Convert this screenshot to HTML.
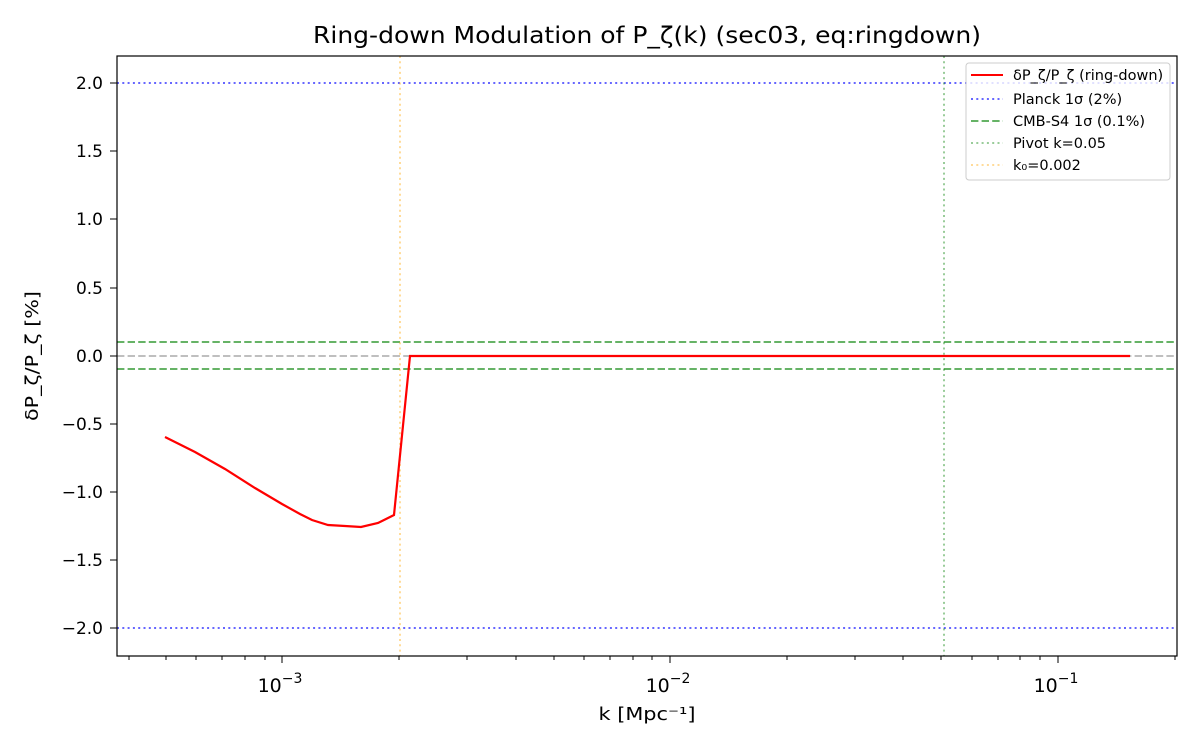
<!DOCTYPE html>
<html><head><meta charset="utf-8"><style>
body{margin:0;background:#fff;}
svg text{font-family:"DejaVu Sans","Liberation Sans",sans-serif;fill:#000;}
</style></head><body>
<svg width="1200" height="750" xmlns="http://www.w3.org/2000/svg">
<rect width="1200" height="750" fill="#fff"/>
<defs><clipPath id="c"><rect x="117" y="56" width="1060" height="600"/></clipPath></defs>
<g clip-path="url(#c)">
<line x1="117" x2="1177" y1="83" y2="83" stroke="#0000ff" stroke-opacity="0.6" stroke-width="2" stroke-dasharray="2,3.3"/>
<line x1="117" x2="1177" y1="628" y2="628" stroke="#0000ff" stroke-opacity="0.6" stroke-width="2" stroke-dasharray="2,3.3"/>
<line x1="117" x2="1177" y1="342" y2="342" stroke="#008000" stroke-opacity="0.6" stroke-width="2" stroke-dasharray="7.4,3.2"/>
<line x1="117" x2="1177" y1="369" y2="369" stroke="#008000" stroke-opacity="0.6" stroke-width="2" stroke-dasharray="7.4,3.2"/>
<line x1="117" x2="1177" y1="356" y2="356" stroke="#808080" stroke-opacity="0.5" stroke-width="2" stroke-dasharray="7.4,3.2"/>
<line x1="944" x2="944" y1="56" y2="656" stroke="#008000" stroke-opacity="0.4" stroke-width="2" stroke-dasharray="2,3.3"/>
<line x1="400" x2="400" y1="56" y2="656" stroke="#ffa500" stroke-opacity="0.4" stroke-width="2" stroke-dasharray="2,3.3"/>
<polyline fill="none" stroke="#ff0000" stroke-width="2.2" points="165,437 195,452 225,469 255,488 282,504 300,514 312,520 328,525 345,526 361,527 378,523 394,515 410,356 1130,356"/>
</g>
<rect x="117" y="56" width="1060" height="600" fill="none" stroke="#000" stroke-width="1.2"/>
<g stroke="#000" stroke-width="1">
<line x1="282" x2="282" y1="656" y2="663"/><line x1="670" x2="670" y1="656" y2="663"/><line x1="1058" x2="1058" y1="656" y2="663"/>
<line x1="129" x2="129" y1="656" y2="660"/><line x1="166" x2="166" y1="656" y2="660"/><line x1="196" x2="196" y1="656" y2="660"/><line x1="222" x2="222" y1="656" y2="660"/><line x1="245" x2="245" y1="656" y2="660"/><line x1="265" x2="265" y1="656" y2="660"/>
<line x1="399" x2="399" y1="656" y2="660"/><line x1="467" x2="467" y1="656" y2="660"/><line x1="516" x2="516" y1="656" y2="660"/><line x1="554" x2="554" y1="656" y2="660"/><line x1="584" x2="584" y1="656" y2="660"/><line x1="610" x2="610" y1="656" y2="660"/><line x1="633" x2="633" y1="656" y2="660"/><line x1="652" x2="652" y1="656" y2="660"/>
<line x1="787" x2="787" y1="656" y2="660"/><line x1="855" x2="855" y1="656" y2="660"/><line x1="903" x2="903" y1="656" y2="660"/><line x1="941" x2="941" y1="656" y2="660"/><line x1="972" x2="972" y1="656" y2="660"/><line x1="998" x2="998" y1="656" y2="660"/><line x1="1020" x2="1020" y1="656" y2="660"/><line x1="1040" x2="1040" y1="656" y2="660"/>
<line x1="1175" x2="1175" y1="656" y2="660"/>
<line x1="110" x2="117" y1="83" y2="83"/><line x1="110" x2="117" y1="151" y2="151"/><line x1="110" x2="117" y1="219" y2="219"/><line x1="110" x2="117" y1="288" y2="288"/><line x1="110" x2="117" y1="356" y2="356"/><line x1="110" x2="117" y1="424" y2="424"/><line x1="110" x2="117" y1="492" y2="492"/><line x1="110" x2="117" y1="560" y2="560"/><line x1="110" x2="117" y1="628" y2="628"/>
</g>
<g font-size="17" text-anchor="end">
<text x="103" y="89">2.0</text><text x="103" y="157">1.5</text><text x="103" y="225">1.0</text><text x="103" y="294">0.5</text><text x="103" y="362">0.0</text><text x="103" y="430">−0.5</text><text x="103" y="498">−1.0</text><text x="103" y="566">−1.5</text><text x="103" y="634">−2.0</text>
</g>
<g font-size="19" text-anchor="middle">
<text x="280" y="692">10<tspan dy="-9" font-size="14">−3</tspan></text>
<text x="668" y="692">10<tspan dy="-9" font-size="14">−2</tspan></text>
<text x="1056" y="692">10<tspan dy="-9" font-size="14">−1</tspan></text>
<text x="647" y="720" font-size="18" textLength="97" lengthAdjust="spacingAndGlyphs">k [Mpc⁻¹]</text>
<text x="647" y="43" font-size="23" textLength="668" lengthAdjust="spacingAndGlyphs">Ring-down Modulation of P_ζ(k) (sec03, eq:ringdown)</text>
<text transform="translate(38,356) rotate(-90)" font-size="18" textLength="130" lengthAdjust="spacingAndGlyphs">δP_ζ/P_ζ [%]</text>
</g>
<rect x="966" y="63" width="204" height="117" rx="3" fill="#fff" fill-opacity="0.8" stroke="#ccc"/>
<g stroke-width="2">
<line x1="971" x2="1003" y1="75" y2="75" stroke="#ff0000"/>
<line x1="971" x2="1003" y1="99" y2="99" stroke="#0000ff" stroke-opacity="0.6" stroke-dasharray="2,3.3"/>
<line x1="971" x2="1003" y1="121" y2="121" stroke="#008000" stroke-opacity="0.6" stroke-dasharray="7.4,3.2"/>
<line x1="971" x2="1003" y1="143" y2="143" stroke="#008000" stroke-opacity="0.4" stroke-dasharray="2,3.3"/>
<line x1="971" x2="1003" y1="165" y2="165" stroke="#ffa500" stroke-opacity="0.4" stroke-dasharray="2,3.3"/>
</g>
<g font-size="14.5">
<text x="1013" y="80">δP_ζ/P_ζ (ring-down)</text>
<text x="1013" y="104">Planck 1σ (2%)</text>
<text x="1013" y="126">CMB-S4 1σ (0.1%)</text>
<text x="1013" y="148">Pivot k=0.05</text>
<text x="1013" y="170">k₀=0.002</text>
</g>
</svg>
</body></html>
